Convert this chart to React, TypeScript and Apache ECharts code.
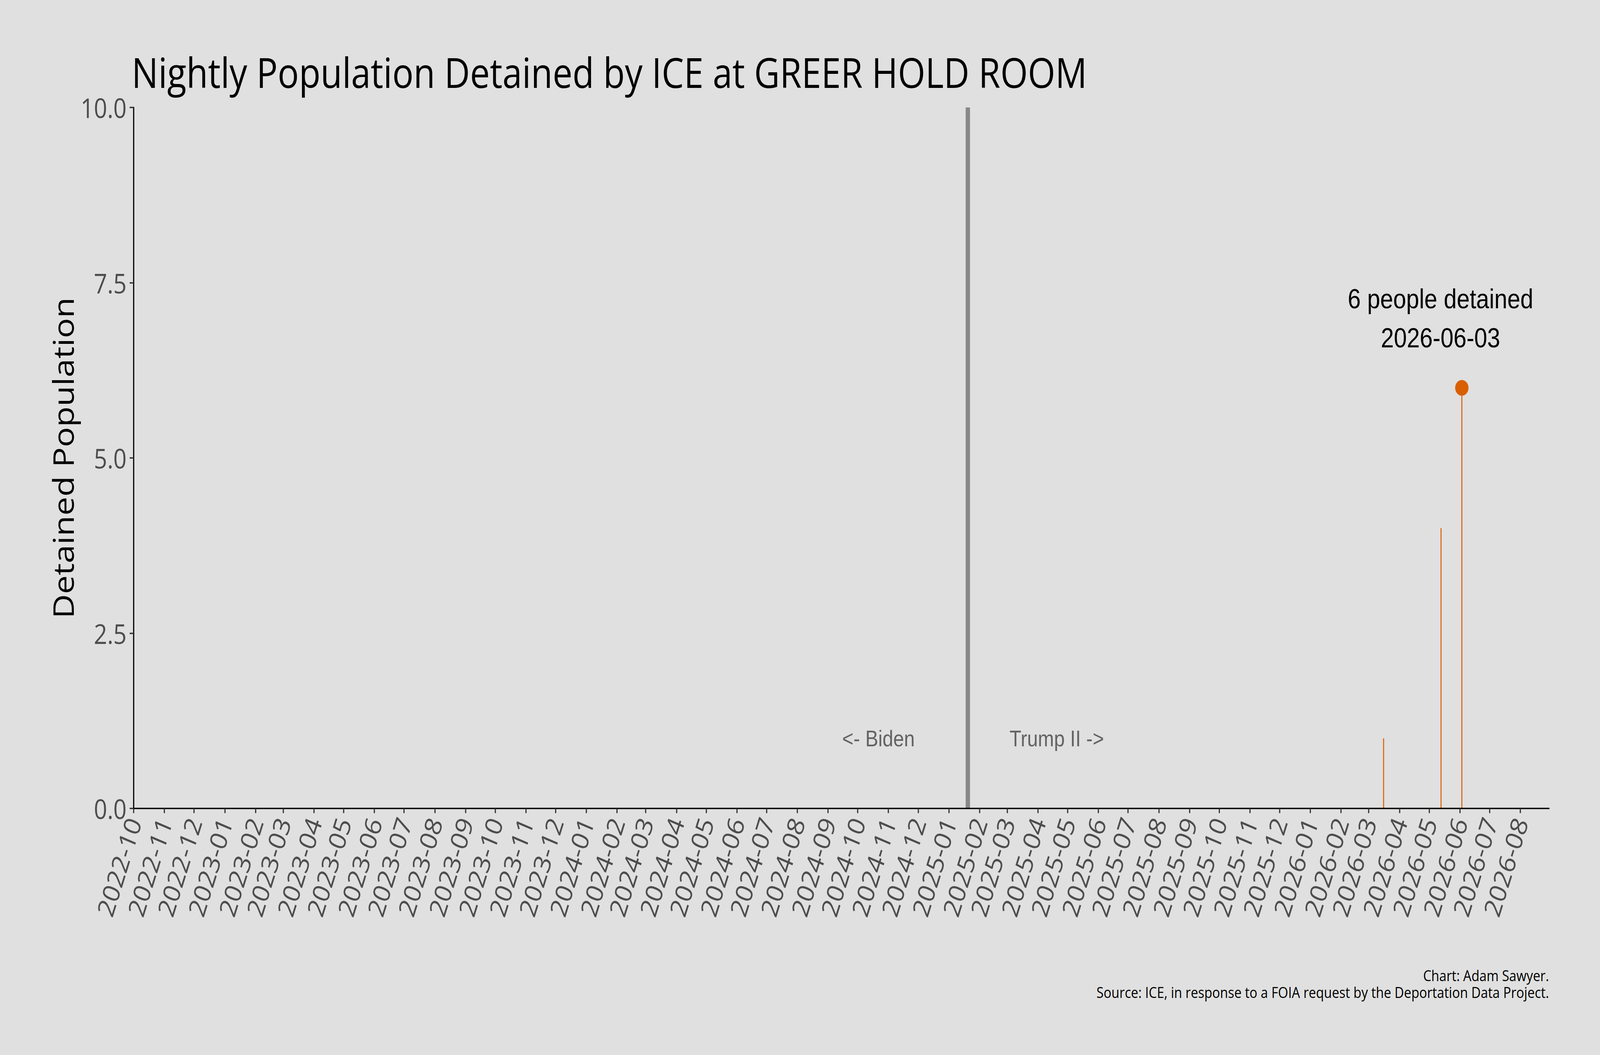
import React, { useEffect, useRef } from "react";
import * as echarts from "echarts";

const chartTitle = "Nightly Population Detained by ICE at GREER HOLD ROOM";
const yAxisTitle = "Detained Population";
const footerLines = [
  "Chart: Adam Sawyer.",
  "Source: ICE, in response to a FOIA request by the Deportation Data Project.",
];

// Nightly data: every night between firstNight and lastNight is 0 unless listed below
const firstNight = "2022-10-01";
const lastNight = "2026-06-10";
const nonZeroNights = ["2026-03-16", "2026-05-13", "2026-06-03"];
const nonZeroCounts = [1, 4, 6];

const axisStart = "2022-10-01";
const axisEnd = "2026-08-30";

const monthTicks = [
  "2022-10", "2022-11", "2022-12",
  "2023-01", "2023-02", "2023-03", "2023-04", "2023-05", "2023-06",
  "2023-07", "2023-08", "2023-09", "2023-10", "2023-11", "2023-12",
  "2024-01", "2024-02", "2024-03", "2024-04", "2024-05", "2024-06",
  "2024-07", "2024-08", "2024-09", "2024-10", "2024-11", "2024-12",
  "2025-01", "2025-02", "2025-03", "2025-04", "2025-05", "2025-06",
  "2025-07", "2025-08", "2025-09", "2025-10", "2025-11", "2025-12",
  "2026-01", "2026-02", "2026-03", "2026-04", "2026-05", "2026-06",
  "2026-07", "2026-08",
];
const yMin = 0;
const yMax = 10;
const yInterval = 2.5;

const inauguration = "2025-01-20";
const eraLabels = ["<- Biden", "Trump II ->"];
const eraLabelDates = ["2024-10-22", "2025-04-20"];
const eraLabelValue = 1;

const W = 4800;
const H = 2700;
const DAY = 86400000;
function ts(s: string): number {
  const p = s.split("-").map(Number);
  return Date.UTC(p[0], p[1] - 1, p[2] || 1);
}
function fmtMonth(v: number): string {
  const d = new Date(v);
  return d.getUTCFullYear() + "-" + String(d.getUTCMonth() + 1).padStart(2, "0");
}

export default function App() {
  const ref = useRef<HTMLDivElement>(null);
  const sx = typeof window !== "undefined" ? Math.min(1, window.innerWidth / W) : 1;
  const sy = typeof window !== "undefined" ? Math.min(1, window.innerHeight / H) : 1;

  useEffect(() => {
    document.body.style.margin = "0";
    document.body.style.background = "#e0e0e0";
    document.documentElement.style.overflow = "hidden";
    if (!ref.current) return;
    const chart = echarts.init(ref.current, undefined, { renderer: "svg" });

    const lookup: Record<number, number> = {};
    nonZeroNights.forEach((d, i) => (lookup[ts(d)] = nonZeroCounts[i]));
    const nightly: [number, number][] = [];
    for (let t = ts(firstNight); t <= ts(lastNight); t += DAY) {
      nightly.push([t, lookup[t] ?? 0]);
    }
    let peakIdx = 0;
    nonZeroCounts.forEach((v, i) => {
      if (v > nonZeroCounts[peakIdx]) peakIdx = i;
    });
    const peakDate = nonZeroNights[peakIdx];
    const peakVal = nonZeroCounts[peakIdx];
    const tickValues = monthTicks.map((m) => ts(m + "-01"));

    const orange = "#d95f02";
    const sans = "'Open Sans', 'Noto Sans', sans-serif";
    const arial = "'Liberation Sans', Arial, sans-serif";

    chart.setOption({
      animation: false,
      backgroundColor: "#e0e0e0",
      title: {
        text: chartTitle,
        left: 390,
        top: 126,
        textStyle: { fontFamily: sans, fontSize: 106, fontWeight: "normal", color: "#000" },
      },
      graphic: [
        {
          type: "text",
          right: 153,
          top: 2474,
          style: {
            text: footerLines.join("\n"),
            textAlign: "right",
            fontFamily: sans,
            fontSize: 39,
            lineHeight: 43,
            fill: "#000",
          },
        },
      ],
      grid: { left: 401, right: 153, top: 275, bottom: 631, containLabel: false },
      xAxis: {
        type: "value",
        min: ts(axisStart),
        max: ts(axisEnd),
        scale: true,
        z: 5,
        splitLine: { show: false },
        axisLine: { show: true, lineStyle: { color: "#000", width: 3.5 } },
        axisTick: {
          show: true,
          customValues: tickValues,
          length: 12,
          lineStyle: { color: "#333", width: 3.5 },
        },
        axisLabel: {
          customValues: tickValues,
          formatter: (v: number) => fmtMonth(v),
          rotate: 70,
          margin: 26,
          fontFamily: sans,
          fontSize: 70,
          color: "#4d4d4d",
          hideOverlap: false,
        },
      },
      yAxis: {
        type: "value",
        min: yMin,
        max: yMax,
        interval: yInterval,
        name: yAxisTitle,
        nameLocation: "middle",
        nameRotate: 90,
        nameGap: 168,
        nameTextStyle: { fontFamily: sans, fontSize: 86, color: "#000" },
        splitLine: { show: false },
        axisLine: { show: true, lineStyle: { color: "#000", width: 3.5 } },
        axisTick: { show: true, length: 12, lineStyle: { color: "#333", width: 3.5 } },
        axisLabel: {
          formatter: (v: number) => v.toFixed(1),
          margin: 21,
          fontFamily: sans,
          fontSize: 70,
          color: "#4d4d4d",
        },
      },
      series: [
        {
          type: "bar",
          name: "Nightly population",
          data: nightly,
          barWidth: 3,
          itemStyle: { color: orange },
          z: 2,
          markLine: {
            silent: true,
            symbol: "none",
            label: { show: false },
            lineStyle: { color: "#888888", width: 13, type: "solid" },
            data: [{ xAxis: ts(inauguration) }],
          },
        },
        {
          type: "scatter",
          data: eraLabelDates.map((d, i) => ({
            value: [ts(d), eraLabelValue],
            label: { formatter: eraLabels[i] },
          })),
          symbolSize: 0,
          z: 6,
          label: {
            show: true,
            position: "inside",
            fontFamily: arial,
            fontSize: 58,
            color: "#444",
          },
        },
        {
          type: "scatter",
          data: [[ts(peakDate), peakVal]],
          symbolSize: 40,
          itemStyle: { color: orange, opacity: 1 },
          z: 7,
          label: {
            show: true,
            position: "top",
            distance: 58,
            offset: [-64, 0],
            formatter: `${peakVal} people detained\n${peakDate}`,
            fontFamily: arial,
            fontSize: 70,
            lineHeight: 100,
            align: "center",
            color: "#000",
          },
        },
      ],
    });
    return () => chart.dispose();
  }, []);

  return (
    <div
      style={{
        position: "fixed",
        left: 0,
        top: 0,
        width: W,
        height: H,
        transform: `scale(${sx}, ${sy})`,
        transformOrigin: "0 0",
      }}
    >
      <div ref={ref} style={{ width: W, height: H }} />
    </div>
  );
}
